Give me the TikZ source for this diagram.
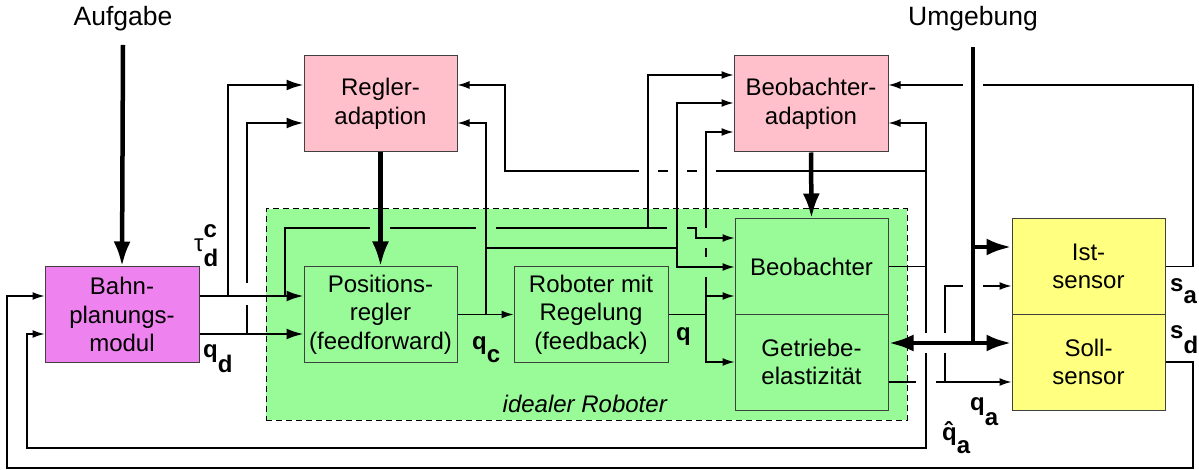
\documentclass[tikz,border=0pt]{standalone}
\usepackage{fontspec}
\setmainfont{Liberation Sans}
\usetikzlibrary{arrows.meta}
\definecolor{bviolet}{RGB}{238,130,238}
\definecolor{rpink}{RGB}{255,192,203}
\definecolor{igreen}{RGB}{152,251,152}
\definecolor{syellow}{RGB}{255,255,128}
\begin{document}
\begin{tikzpicture}[x=1pt,y=-1pt,
  box/.style={draw=black!75, line width=1pt, rectangle, minimum width=153pt, minimum height=95pt, inner sep=0pt, align=center, font=\fontsize{24}{28.5}\selectfont},
  thinl/.style={line width=1.3pt},
  medl/.style={line width=2.2pt},
  thickl/.style={line width=4.5pt},
  tarr/.style={-{Latex[length=12pt,width=8pt]}},
  marr/.style={-{Latex[length=17pt,width=11pt]}},
  barr/.style={-{Latex[length=25pt,width=17pt]}},
  lbl/.style={font=\fontsize{24}{28}\selectfont\bfseries, inner sep=0pt, anchor=base west},
  toplbl/.style={font=\fontsize{26.5}{30}\selectfont, inner sep=0pt},
]
\useasboundingbox (0,0) rectangle (1199,470);

% ideal robot region
\node[draw=black, line width=1pt, dash pattern=on 6pt off 4pt, fill=igreen, minimum width=641pt, minimum height=211pt, inner sep=0pt] (ideal) at (586.5,314.5) {};

% boxes
\node[box, fill=bviolet, minimum width=154pt] (bahn) at (122,314.5) {Bahn-\\planungs-\\modul};
\node[box, fill=rpink, minimum height=96pt] (regad) at (380.5,104) {Regler-\\adaption};
\node[box, fill=rpink, minimum width=154pt, minimum height=96pt] (beoad) at (811,104) {Beobachter-\\adaption};
\node[box, fill=igreen] (posr) at (380.5,314.5) {Positions-\\regler\\(feedforward)};
\node[box, fill=igreen, minimum width=154pt] (robo) at (591,314.5) {Roboter mit\\Regelung\\(feedback)};
\node[box, fill=igreen] (beob) at (811.5,266.5) {Beobachter};
\node[box, fill=igreen, minimum height=96pt] (getr) at (811.5,362) {Getriebe-\\elastizität};
\node[box, fill=syellow] (ist) at (1088.5,266.5) {Ist-\\sensor};
\node[box, fill=syellow, minimum height=96pt] (soll) at (1088.5,362) {Soll-\\sensor};

\node[anchor=base east, inner sep=0pt, font=\fontsize{24}{28}\selectfont\itshape] (idlbl) at (667,412) {idealer Roboter};

% top labels
\node[toplbl] (aufg) at (123,19) {Aufgabe};
\node[toplbl] (umg) at (973,19) {Umgebung};

% thick connectors
\draw[thickl,barr] (123,45) -- (bahn.north);
\draw[thickl,barr] (regad.south) -- (posr.north);
\draw[thickl,barr] (beoad.south) -- (beob.north);
\coordinate (uj) at (973,343);
\draw[thickl] (973,47) -- (uj);
\draw[thickl,barr] (973,247) -- (ist.west |- 0,247);
\draw[thickl,barr] (uj) -- (soll.west |- uj);
\draw[thickl,barr] (uj) -- (getr.east |- uj);

% medium connectors from Bahnplanung
\draw[medl,marr] (bahn.east |- 0,296) -- (posr.west |- 0,296);
\draw[medl,marr] (228,296) -- (228,85) -- (regad.west |- 0,85);
\draw[medl,marr] (bahn.east |- 0,334) -- (posr.west |- 0,334);
\draw[medl] (247,334) -- (247,305);
\draw[medl,marr] (247,283) -- (247,123) -- (regad.west |- 0,123);

% tau distribution
\draw[thinl] (285,296) -- (285,228) -- (370,228);
\draw[thinl] (390,228) -- (476,228);
\draw[thinl] (496,228) -- (667,228);
\draw[thinl,tarr] (687,228) -- (696,228) -- (696,238) -- (beob.west |- 0,238);
\draw[thinl,tarr] (648,228) -- (648,75) -- (beoad.west |- 0,75);

% q_c distribution
\draw[thinl,tarr] (posr.east) -- (robo.west);
\draw[thinl,tarr] (486,314.5) -- (486,123) -- (regad.east |- 0,123);
\draw[thinl] (486,248) -- (677,248);
\draw[thinl,tarr] (677,248) -- (677,103) -- (beoad.west |- 0,103);
\draw[thinl,tarr] (677,248) -- (677,267) -- (beob.west |- 0,267);

% q distribution
\draw[thinl] (robo.east) -- (706,314.5);
\draw[thinl,tarr] (706,296) -- (beob.west |- 0,296);
\draw[thinl,tarr] (706,277) -- (706,362) -- (getr.west |- 0,362);
\draw[thinl] (706,248) -- (706,257);
\draw[thinl,tarr] (706,228) -- (706,132) -- (beoad.west |- 0,132);

% Beobachter output
\draw[thinl] (beob.east) -- (926,266.5);
\draw[thinl,tarr] (926,333) -- (926,123) -- (beoad.east |- 0,123);
\draw[thinl,tarr] (926,353) -- (926,448) -- (27,448) -- (27,334) -- (bahn.west |- 0,334);
\draw[thinl] (926,171) -- (716,171);
\draw[thinl] (697,171) -- (687,171);
\draw[thinl] (668,171) -- (658,171);
\draw[thinl,tarr] (639,171) -- (505,171) -- (505,85) -- (regad.east |- 0,85);

% Ist-sensor output
\draw[thinl] (ist.east) -- (1193,266.5) -- (1193,85) -- (983,85);
\draw[thinl,tarr] (963,85) -- (beoad.east |- 0,85);

% Soll-sensor output
\draw[thinl,tarr] (soll.east) -- (1193,362) -- (1193,468) -- (7,468) -- (7,296) -- (bahn.west |- 0,296);

% Getriebe output
\draw[thinl] (getr.east |- 0,382) -- (916,382);
\draw[thinl,tarr] (936,382) -- (soll.west |- 0,382);
\draw[thinl] (945,382) -- (945,353);
\draw[thinl] (945,333) -- (945,286) -- (963,286);
\draw[thinl,tarr] (983,286) -- (ist.west |- 0,286);

% labels
\node[lbl, font=\fontsize{24}{28}\selectfont] (tau) at (194,252) {τ\rlap{\raisebox{14pt}{\bfseries c}}\raisebox{-15pt}{\bfseries d}};
\node[lbl] (qd) at (203,357.5) {q\raisebox{-14.5pt}{d}};
\node[lbl] (qc) at (472,349.5) {q\raisebox{-13pt}{c}};
\node[lbl] (q) at (676,340) {q};
\node[lbl] (sa) at (1170,291) {s\raisebox{-13pt}{a}};
\node[lbl] (sd) at (1170,338) {s\raisebox{-15pt}{d}};
\node[lbl] (qa) at (970,410) {q\raisebox{-15pt}{a}};
\node[lbl] (qha) at (942,440) {\^{q}\raisebox{-13pt}{a}};
\end{tikzpicture}
\end{document}
